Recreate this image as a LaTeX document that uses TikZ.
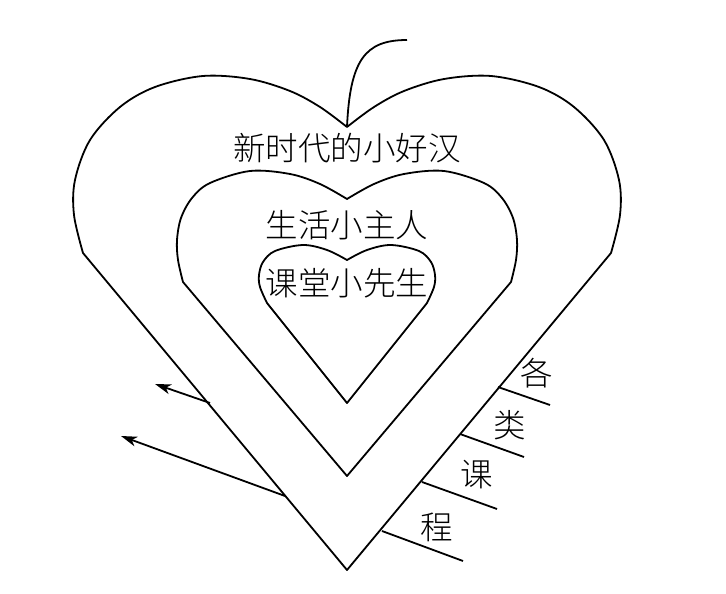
\documentclass[tikz,border=0pt]{standalone}
\usepackage{fontspec}
\usetikzlibrary{arrows.meta}
\newfontfamily\cjk[UprightFont={* Light}]{Noto Sans CJK SC}
\newlength{\du}
\setlength{\du}{1\unitlength}
\tikzset{
  heartline/.style={line width=1.8\du, line join=round},
  pointer/.style={heartline, -{Stealth[length=16pt,width=10pt,inset=4.5pt]}},
  bigtext/.style={font=\cjk\fontsize{32.5}{38}\selectfont, inner sep=0pt},
}

\begin{document}
\begin{tikzpicture}
\pgftransformxscale{1.000000}
\pgftransformyscale{-1.000000}
\useasboundingbox (0\du,0\du) rectangle (726\du,594\du);
\definecolor{dialinecolor}{rgb}{0.000000, 0.000000, 0.000000}
\pgfsetstrokecolor{dialinecolor}
\pgfsetfillcolor{dialinecolor}
\pgfsetlinewidth{1.800000\du}
\pgfsetdash{}{0pt}
% outer heart
\draw[heartline] (347\du,570\du) -- plot[smooth, tension=0.55] coordinates {(83\du,253\du) (74\du,215\du) (75\du,180\du) (90\du,140\du) (120\du,107\du) (155\du,87\du) (203\du,76\du) (250\du,79\du) (290\du,91\du) (320\du,107\du) (347\du,127\du)}
  -- plot[smooth, tension=0.55] coordinates {(347\du,127\du) (374\du,107\du) (404\du,91\du) (444\du,79\du) (491\du,76\du) (539\du,87\du) (574\du,107\du) (604\du,140\du) (619\du,180\du) (620\du,215\du) (611\du,253\du)} -- cycle;
% stem
\coordinate (stemfoot) at (347\du,127\du);
\coordinate (stemtop) at (407\du,40\du);
\draw[heartline] (stemfoot) .. controls (350\du,60\du) and (365\du,40\du) .. (stemtop);
% middle heart
\draw[heartline] (347\du,476\du) -- plot[smooth, tension=0.55] coordinates {(183\du,282\du) (178\du,260\du) (177\du,240\du) (181\du,218\du) (192\du,198\du) (210\du,183\du) (250\du,171\du) (290\du,174\du) (320\du,184\du) (347\du,199\du)}
  -- plot[smooth, tension=0.55] coordinates {(347\du,199\du) (374\du,184\du) (404\du,174\du) (444\du,171\du) (484\du,183\du) (502\du,198\du) (513\du,218\du) (517\du,240\du) (516\du,260\du) (511\du,282\du)} -- cycle;
% inner heart
\draw[heartline] (347\du,403\du) -- plot[smooth, tension=0.55] coordinates {(267\du,303\du) (260\du,287\du) (259\du,275\du) (263\du,262\du) (275\du,251\du) (303\du,245\du) (327\du,250\du) (347\du,260\du)}
  -- plot[smooth, tension=0.55] coordinates {(347\du,260\du) (367\du,250\du) (391\du,245\du) (419\du,251\du) (431\du,262\du) (435\du,275\du) (434\du,287\du) (427\du,303\du)} -- cycle;
% setfont left to latex
\node[bigtext] (haohan) at (347\du,148\du){新时代的小好汉};
\node[bigtext] (zhuren) at (347\du,225\du){生活小主人};
\node[bigtext] (xiansheng) at (347\du,283\du){课堂小先生};
% arrows on the left
\coordinate (arrowAfoot) at (210\du,403\du);
\coordinate (arrowAtip) at (155\du,384\du);
\coordinate (arrowBfoot) at (285\du,496\du);
\coordinate (arrowBtip) at (121\du,436\du);
\draw[pointer] (arrowAfoot)--(arrowAtip);
\draw[pointer] (arrowBfoot)--(arrowBtip);
% ticks on the right
\coordinate (tickAfoot) at (498\du,387\du);
\coordinate (tickAend) at (550\du,405\du);
\coordinate (tickBfoot) at (460\du,434\du);
\coordinate (tickBend) at (524\du,457\du);
\coordinate (tickCfoot) at (422\du,482\du);
\coordinate (tickCend) at (497\du,509\du);
\coordinate (tickDfoot) at (382\du,531\du);
\coordinate (tickDend) at (463\du,561\du);
\draw[heartline] (tickAfoot)--(tickAend);
\draw[heartline] (tickBfoot)--(tickBend);
\draw[heartline] (tickCfoot)--(tickCend);
\draw[heartline] (tickDfoot)--(tickDend);
\node[bigtext] (ge) at (537\du,373\du){各};
\node[bigtext] (lei) at (510\du,425\du){类};
\node[bigtext] (ke) at (477\du,475\du){课};
\node[bigtext] (cheng) at (437\du,527\du){程};
\end{tikzpicture}
\end{document}
